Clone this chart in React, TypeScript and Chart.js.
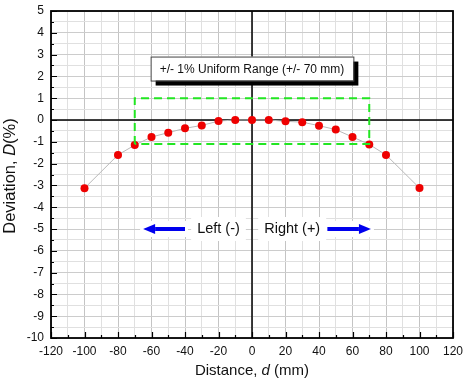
import React, { useEffect, useRef } from "react";
import { Chart, registerables } from "chart.js";
Chart.register(...registerables);

const FONT = "'Liberation Sans', Arial, Helvetica, sans-serif";

const distances = [-100, -80, -70, -60, -50, -40, -30, -20, -10, 0, 10, 20, 30, 40, 50, 60, 70, 80, 100];
const deviations = [-3.13, -1.6, -1.15, -0.78, -0.58, -0.38, -0.25, -0.05, 0, 0, 0, -0.06, -0.1, -0.26, -0.44, -0.78, -1.12, -1.6, -3.12];

const rangeX = [-70, -70, 70, 70, -70];
const rangeY = [-1.1, 1, 1, -1.1, -1.1];

const rangeLabel = "+/- 1% Uniform Range (+/- 70 mm)";
const rangeLabelPos = { x: 0, y: 2.36 };
const leftLabel = "Left (-)";
const rightLabel = "Right (+)";
const leftLabelX = -20;
const rightLabelX = 24;
const arrowY = -5;
const leftArrow = [-40, -65];
const rightArrow = [45, 71];

const decor = {
  id: "decor",
  beforeDatasetsDraw(chart: any) {
    const { ctx, chartArea: a, scales } = chart;
    const xs = scales.x, ys = scales.y;
    ctx.save();
    ctx.strokeStyle = "#000";
    ctx.lineWidth = 1.5;
    const x0 = xs.getPixelForValue(0);
    const y0 = ys.getPixelForValue(0);
    ctx.beginPath();
    ctx.moveTo(x0, a.top); ctx.lineTo(x0, a.bottom);
    ctx.moveTo(a.left, y0); ctx.lineTo(a.right, y0);
    ctx.stroke();
    ctx.lineWidth = 1.2;
    ctx.beginPath();
    for (let v = -10; v <= 5.001; v += 0.5) {
      const y = Math.round(ys.getPixelForValue(v)) + 0.5;
      const len = Number.isInteger(v) ? 6 : 3;
      ctx.moveTo(a.left, y); ctx.lineTo(a.left + len, y);
    }
    for (let v = -120; v <= 120; v += 10) {
      const x = Math.round(xs.getPixelForValue(v)) + 0.5;
      const len = v % 20 === 0 ? 6 : 3;
      ctx.moveTo(x, a.bottom); ctx.lineTo(x, a.bottom - len);
    }
    ctx.stroke();
    ctx.lineWidth = 1.8;
    ctx.strokeRect(a.left, a.top, a.right - a.left, a.bottom - a.top);
    ctx.restore();
  },
  afterDatasetsDraw(chart: any) {
    const { ctx, scales } = chart;
    const xs = scales.x, ys = scales.y;
    ctx.save();
    ctx.font = `12px ${FONT}`;
    const tw = ctx.measureText(rangeLabel).width;
    const cx = xs.getPixelForValue(rangeLabelPos.x);
    const cy = ys.getPixelForValue(rangeLabelPos.y);
    const bw = tw + 18, bh = 24;
    const bx = cx - bw / 2, by = cy - bh / 2;
    ctx.fillStyle = "#000";
    ctx.fillRect(bx + 5, by + 5, bw, bh);
    ctx.fillStyle = "#fff";
    ctx.fillRect(bx, by, bw, bh);
    ctx.strokeStyle = "#444";
    ctx.lineWidth = 1;
    ctx.strokeRect(bx + 0.5, by + 0.5, bw, bh);
    ctx.fillStyle = "#111";
    ctx.textAlign = "center";
    ctx.textBaseline = "middle";
    ctx.fillText(rangeLabel, cx, cy + 1);

    ctx.font = `14.5px ${FONT}`;
    const ay = ys.getPixelForValue(arrowY);
    for (const [txt, vx] of [[leftLabel, leftLabelX], [rightLabel, rightLabelX]] as [string, number][]) {
      const px = xs.getPixelForValue(vx);
      const w = ctx.measureText(txt).width;
      ctx.fillStyle = "#fff";
      ctx.fillRect(px - w / 2 - 6, ay - 12, w + 12, 24);
      ctx.fillStyle = "#111";
      ctx.fillText(txt, px, ay);
    }
    for (const [from, to] of [leftArrow, rightArrow]) {
      const x1 = xs.getPixelForValue(from);
      const x2 = xs.getPixelForValue(to);
      const dir = Math.sign(x2 - x1);
      const headLen = 12;
      ctx.fillStyle = "#fff";
      ctx.fillRect(Math.min(x1, x2) - 3, ay - 8, Math.abs(x2 - x1) + 6, 16);
      ctx.fillStyle = "#0000ee";
      ctx.strokeStyle = "#0000ee";
      ctx.lineWidth = 4;
      ctx.beginPath();
      ctx.moveTo(x1, ay);
      ctx.lineTo(x2 - dir * headLen, ay);
      ctx.stroke();
      ctx.beginPath();
      ctx.moveTo(x2, ay);
      ctx.lineTo(x2 - dir * headLen, ay - 5);
      ctx.lineTo(x2 - dir * headLen, ay + 5);
      ctx.closePath();
      ctx.fill();
    }
    ctx.restore();
  },
  afterDraw(chart: any) {
    const { ctx, chartArea: a } = chart;
    ctx.save();
    ctx.fillStyle = "#111";
    ctx.textBaseline = "middle";
    const drawMixed = (parts: [string, boolean][], cx: number, cy: number, size: number) => {
      let total = 0;
      const widths = parts.map(([t, it]) => {
        ctx.font = `${it ? "italic " : ""}${size}px ${FONT}`;
        const w = ctx.measureText(t).width;
        total += w;
        return w;
      });
      let x = cx - total / 2;
      ctx.textAlign = "left";
      parts.forEach(([t, it], i) => {
        ctx.font = `${it ? "italic " : ""}${size}px ${FONT}`;
        ctx.fillText(t, x, cy);
        x += widths[i];
      });
    };
    drawMixed([["Distance, ", false], ["d", true], [" (mm)", false]], (a.left + a.right) / 2, 371, 15);
    ctx.translate(10, 176);
    ctx.rotate(-Math.PI / 2);
    drawMixed([["Deviation, ", false], ["D", true], ["(%)", false]], 0, 0, 16.5);
    ctx.restore();
  },
};

export default function App() {
  const ref = useRef<HTMLCanvasElement>(null);
  useEffect(() => {
    document.body.style.margin = "0";
    const chart = new Chart(ref.current!, {
      type: "scatter",
      data: {
        datasets: [
          {
            data: rangeX.map((x, i) => ({ x, y: rangeY[i] })),
            showLine: true,
            borderColor: "#22e622",
            borderWidth: 2,
            borderDash: [8, 5],
            pointRadius: 0,
            fill: false,
          },
          {
            data: distances.map((x, i) => ({ x, y: deviations[i] })),
            showLine: true,
            borderColor: "#b8b8b8",
            borderWidth: 1,
            pointRadius: 4,
            pointBackgroundColor: "#ee0000",
            pointBorderColor: "#ee0000",
            pointBorderWidth: 0,
            fill: false,
          },
        ],
      },
      options: {
        animation: false,
        responsive: false,
        maintainAspectRatio: false,
        layout: { padding: { top: 11, right: 12, left: 0, bottom: 0 } },
        plugins: { legend: { display: false }, tooltip: { enabled: false } },
        scales: {
          x: {
            type: "linear",
            min: -120,
            max: 120,
            ticks: {
              stepSize: 10,
              autoSkip: false,
              maxRotation: 0,
              padding: 6,
              color: "#111",
              font: { family: FONT, size: 12 },
              callback: (v: any) => (Number(v) % 20 === 0 ? String(v) : ""),
            },
            grid: {
              color: (c: any) => (c.tick && c.tick.value % 20 === 0 ? "#c4c4c4" : "#e0e0e0"),
              drawTicks: false,
              lineWidth: 1,
            },
            border: { display: false },
            afterFit: (s: any) => { s.height = 46; s.paddingLeft = 0; s.paddingRight = 0; },
          },
          y: {
            type: "linear",
            min: -10,
            max: 5,
            ticks: {
              stepSize: 0.5,
              autoSkip: false,
              padding: 7,
              color: "#111",
              font: { family: FONT, size: 12 },
              callback: (v: any) => (Number.isInteger(Number(v)) ? String(v) : ""),
            },
            grid: {
              color: (c: any) => (c.tick && Number.isInteger(c.tick.value) ? "#cccccc" : "#e0e0e0"),
              drawTicks: false,
              lineWidth: 1,
            },
            border: { display: false },
            afterFit: (s: any) => { s.width = 51; s.paddingTop = 0; s.paddingBottom = 0; },
          },
        },
      } as any,
      plugins: [decor],
    });
    return () => chart.destroy();
  }, []);
  return (
    <div style={{ position: "fixed", left: 0, top: 0, width: 465, height: 384, background: "#fff" }}>
      <canvas ref={ref} width={465} height={384} style={{ display: "block" }} />
    </div>
  );
}
